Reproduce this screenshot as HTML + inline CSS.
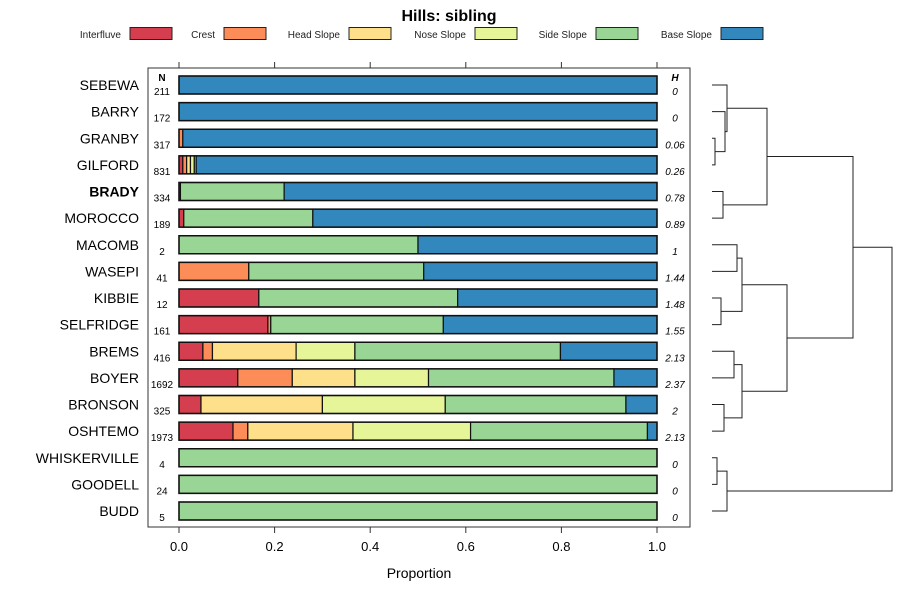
<!DOCTYPE html>
<html><head><meta charset="utf-8"><style>
body{margin:0;background:#fff;}
svg text{font-family:"Liberation Sans",sans-serif;}
</style></head><body>
<svg id="c" width="900" height="600" xmlns="http://www.w3.org/2000/svg">
<text x="449" y="21" text-anchor="middle" font-size="16" font-weight="bold">Hills: sibling</text>
<g id="legend"></g>
<rect x="148" y="68" width="542" height="459" fill="none" stroke="#333" stroke-width="1"/>
<g id="bars"></g>
<g id="axis"></g>
<g id="dendro" fill="none" stroke="#222" stroke-width="1"></g>
<text x="419" y="578" text-anchor="middle" font-size="14">Proportion</text>
<text x="162" y="81" text-anchor="middle" font-size="10" font-weight="bold">N</text>
<text x="675" y="81" text-anchor="middle" font-size="10" font-weight="bold" font-style="italic">H</text>
</svg>
<script>
const categories=["SEBEWA","BARRY","GRANBY","GILFORD","BRADY","MOROCCO","MACOMB","WASEPI","KIBBIE","SELFRIDGE","BREMS","BOYER","BRONSON","OSHTEMO","WHISKERVILLE","GOODELL","BUDD"];
const seriesNames=["Interfluve","Crest","Head Slope","Nose Slope","Side Slope","Base Slope"];
const colors=["#D53E4F","#FC8D59","#FEE08B","#E6F598","#99D594","#3288BD"];
const interfluve=[0,0,0,0.008,0.003,0.01,0,0,0.167,0.186,0.05,0.123,0.046,0.113,0,0,0];
const crest=[0,0,0.008,0.008,0,0,0,0.146,0,0.006,0.02,0.114,0,0.031,0,0,0];
const headSlope=[0,0,0,0.008,0,0,0,0,0,0,0.175,0.131,0.254,0.22,0,0,0];
const noseSlope=[0,0,0,0.008,0,0,0,0,0,0,0.123,0.154,0.257,0.246,0,0,0];
const sideSlope=[0,0,0,0.004,0.217,0.27,0.5,0.366,0.416,0.361,0.43,0.388,0.378,0.37,1,1,1];
const baseSlope=[1,1,0.992,0.964,0.78,0.72,0.5,0.488,0.417,0.447,0.202,0.09,0.065,0.02,0,0,0];
const nValues=["211","172","317","831","334","189","2","41","12","161","416","1692","325","1973","4","24","5"];
const hValues=["0","0","0.06","0.26","0.78","0.89","1","1.44","1.48","1.55","2.13","2.37","2","2.13","0","0","0"];
const xTicks=[0,0.2,0.4,0.6,0.8,1.0];
const xTickLabels=["0.0","0.2","0.4","0.6","0.8","1.0"];
const series=[interfluve,crest,headSlope,noseSlope,sideSlope,baseSlope];
const NS="http://www.w3.org/2000/svg";
const X=v=>179+v*478;
const Y=i=>85+i*26.625;
function mk(t,a,p){const e=document.createElementNS(NS,t);for(const k in a)e.setAttribute(k,a[k]);p.appendChild(e);return e;}
// legend
const lg=document.getElementById('legend');
const lx=[130,224,349,475,596,721];
seriesNames.forEach((n,i)=>{
 const t=mk('text',{x:lx[i]-9,y:38,'font-size':10,'text-anchor':'end',fill:'#222'},lg);t.textContent=n;
 
 
 const r=mk('rect',{x:lx[i],y:27.5,width:42,height:12,fill:colors[i],stroke:'#222','stroke-width':1},lg);
 
 
});
// bars
const bg=document.getElementById('bars');
categories.forEach((c,i)=>{
 const y=Y(i);
 const lab=mk('text',{x:139,y:y+5,'font-size':14,'text-anchor':'end','font-weight':c==="BRADY"?'bold':'normal'},bg);lab.textContent=c;
 
 
 const nt=mk('text',{x:162,y:y+10,'font-size':10,'text-anchor':'middle'},bg);nt.textContent=nValues[i];
 
 
 const ht=mk('text',{x:675,y:y+10,'font-size':10,'text-anchor':'middle','font-style':'italic'},bg);ht.textContent=hValues[i];
 
 
 let cum=0;
 series.forEach((s,j)=>{
  const v=s[i];if(v<=0)return;
  const r=mk('rect',{x:X(cum),y:y-9,width:X(cum+v)-X(cum),height:18,fill:colors[j],stroke:'#111','stroke-width':1.2},bg);
  
  
  cum+=v;
 });
 const o=mk('rect',{x:X(0),y:y-9,width:X(1)-X(0),height:18,fill:'none',stroke:'#111','stroke-width':1.5},bg);
 
 
});
// axis
const ax=document.getElementById('axis');
xTicks.forEach((v,i)=>{
 mk('line',{x1:X(v),x2:X(v),y1:527,y2:533,stroke:'#333'},ax);
 mk('line',{x1:X(v),x2:X(v),y1:62,y2:68,stroke:'#333'},ax);
 const t=mk('text',{x:X(v),y:551,'font-size':13,'text-anchor':'middle'},ax);t.textContent=xTickLabels[i];
 
 
});
// dendrogram
const dg=document.getElementById('dendro');
function link(x,y1,y2,x1,x2){mk('path',{d:`M${x1} ${y1}H${x}V${y2}H${x2}`},dg);}
const L=712;
const m=(a,b)=>(a+b)/2;
const gg=m(Y(2),Y(3));link(715,Y(2),Y(3),L,L);
const bgg=m(Y(1),gg);link(725,Y(1),gg,L,715);
const a1=m(Y(0),bgg);link(727,Y(0),bgg,L,725);
const a2=m(Y(4),Y(5));link(723,Y(4),Y(5),L,L);
const A=m(a1,a2);link(767,a1,a2,727,723);
const b1=m(Y(6),Y(7));link(737,Y(6),Y(7),L,L);
const b2=m(Y(8),Y(9));link(721,Y(8),Y(9),L,L);
const B1=m(b1,b2);link(742,b1,b2,737,721);
const c1=m(Y(10),Y(11));link(734,Y(10),Y(11),L,L);
const c2=m(Y(12),Y(13));link(724,Y(12),Y(13),L,L);
const B2=m(c1,c2);link(742,c1,c2,734,724);
const B=m(B1,B2);link(787,B1,B2,742,742);
const AB=m(A,B);link(853,A,B,767,787);
const d1=m(Y(14),Y(15));link(717,Y(14),Y(15),L,L);
const D=m(d1,Y(16));link(727,d1,Y(16),717,L);
link(892,AB,D,853,727);
</script>
</body></html>
